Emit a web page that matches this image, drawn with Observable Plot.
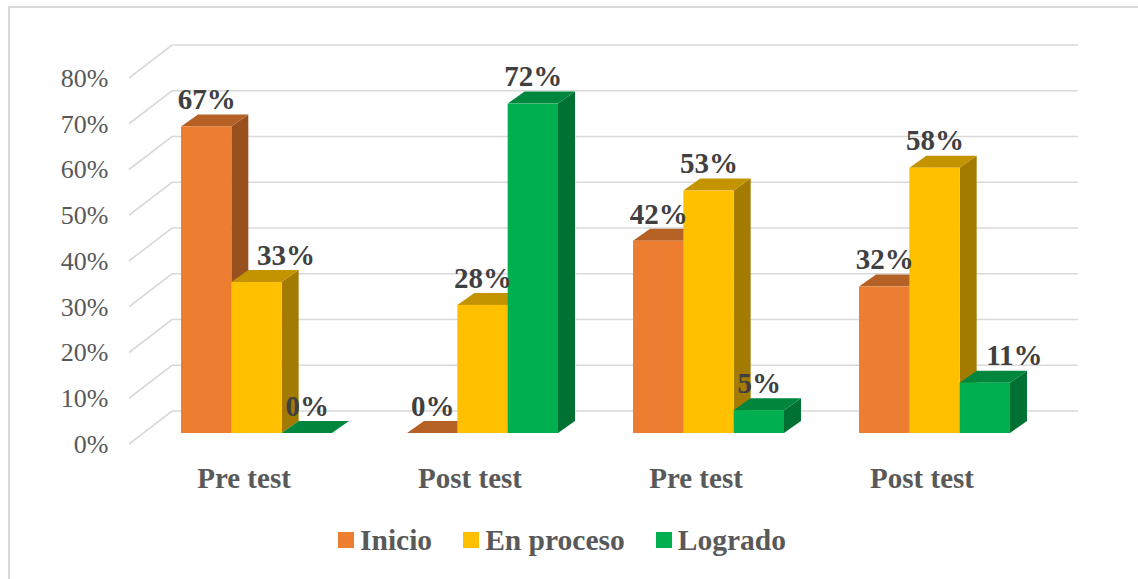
<!DOCTYPE html>
<html><head><meta charset="utf-8">
<script src="https://cdn.jsdelivr.net/npm/d3@7"></script>
<script src="https://cdn.jsdelivr.net/npm/@observablehq/plot@0.6"></script>
<style>
html,body{margin:0;padding:0;background:#fff;overflow:hidden;width:1138px;height:579px;}
#frame{position:absolute;left:8px;top:6px;width:1200px;height:700px;border:2px solid #d9d9d9;box-sizing:border-box;}
#chart{position:absolute;left:0;top:0;}
#legend{position:absolute;left:338px;top:521px;height:38px;display:flex;align-items:center;font-family:"Liberation Serif","Times New Roman",serif;font-weight:bold;font-size:29.5px;color:#595959;white-space:nowrap;}
.item{display:flex;align-items:center;margin-right:31px;}
.sw{width:16px;height:16px;margin-right:6px;}
</style></head><body>
<div id="frame"></div><div id="chart"></div><div id="legend"></div>
<script>
// ---- data ----
const categories = ["Pre test", "Post test", "Pre test", "Post test"];
const series = ["Inicio", "En proceso", "Logrado"];
const inicio = [0.67, 0.00, 0.42, 0.32];
const enProceso = [0.33, 0.28, 0.53, 0.58];
const logrado = [0.00, 0.72, 0.05, 0.11];
const yTicks = [0, 0.1, 0.2, 0.3, 0.4, 0.5, 0.6, 0.7, 0.8];
const colors = ["#ED7D31", "#FFC000", "#00B050"];

const values = [inicio, enProceso, logrado];
const rows = [];
categories.forEach((c, g) => series.forEach((s, si) => {
  const v = values[si][g];
  rows.push({g, s: si, v, label: Math.round(v * 100) + "%"});
}));
// a label is moved right when it would collide with the taller neighbouring bar's side face
rows.forEach((d, i) => {
  const prev = d.s > 0 ? rows[i - 1] : null;
  d.shift = Boolean(prev && prev.v > d.v && d.label.length >= 3);
});

// ---- layout ----
const W = 1138, H = 505;
const mL = 130, mR = 77, mT = 67, mB = 72;
const pInner = 0.332, pOuter = 0.2257;
const step = (W - mL - mR) / (categories.length - pInner + 2 * pOuter);
const bw = step * (1 - pInner), w = bw / 3;
const DX = 17, DY = 12;         // bar depth
const serif = "'Liberation Serif', 'Times New Roman', serif";

function grid(index, scales) {
  const {y} = scales;
  const g = d3.create("svg:g").attr("stroke", "#d9d9d9").attr("stroke-width", 1.6).attr("fill", "none");
  const xr = W - mR;
  for (const t of yTicks) {
    const yy = y(t);
    g.append("path").attr("d", `M${mL - 1},${yy + 11}L${mL + 42},${yy - 22}L${xr + 17},${yy - 22}`);
  }
  return g.node();
}

function faces(index, scales) {
  const {x, y} = scales;
  const g = d3.create("svg:g");
  for (const d of rows) {
    const x0 = x(d.g) + d.s * w, x1 = x0 + w;
    const y0 = y(0), yt = y(d.v);
    const c = d3.color(colors[d.s]);
    g.append("path")
      .attr("d", `M${x1},${y0}L${x1 + DX},${y0 - DY}L${x1 + DX},${yt - DY}L${x1},${yt}Z`)
      .attr("fill", c.darker(1.25).formatHex());
    g.append("path")
      .attr("d", `M${x0},${yt}L${x1},${yt}L${x1 + DX},${yt - DY}L${x0 + DX},${yt - DY}Z`)
      .attr("fill", c.darker(0.75).formatHex());
  }
  return g.node();
}

const marks = [grid, faces];
series.forEach((s, si) => {
  marks.push(Plot.barY(rows.filter(d => d.s === si), {
    x: "g", y: "v", fill: colors[si],
    insetLeft: si * w, insetRight: (2 - si) * w
  }));
});
series.forEach((s, si) => {
  for (const shifted of [false, true]) {
    marks.push(Plot.text(rows.filter(d => d.s === si && d.shift === shifted), {
      x: "g", y: "v", text: "label",
      dx: (si - 1) * w + (shifted ? 29 : 0), dy: -27,
      fontFamily: serif, fontWeight: "bold", fontSize: 29, fill: "#404040"
    }));
  }
});
marks.push(Plot.axisY({
  ticks: yTicks, tickFormat: d3.format(".0%"), tickSize: 0, tickPadding: 22, dy: 11,
  fontFamily: serif, fontSize: 26, fill: "#595959", label: null
}));
marks.push(Plot.axisX({
  tickFormat: i => categories[i], tickSize: 0, tickPadding: 34, dx: -13,
  fontFamily: serif, fontSize: 29, fontWeight: "bold", fill: "#595959", label: null
}));

const chart = Plot.plot({
  width: W, height: H,
  marginLeft: mL, marginRight: mR, marginTop: mT, marginBottom: mB,
  x: {domain: d3.range(categories.length), paddingInner: pInner, paddingOuter: pOuter, round: false, label: null},
  y: {domain: [0, 0.8], label: null},
  style: {background: "transparent", color: "#595959", fontFamily: serif, overflow: "visible"},
  marks
});
document.getElementById("chart").appendChild(chart);

const legend = document.getElementById("legend");
series.forEach((s, si) => {
  const item = document.createElement("div");
  item.className = "item";
  const sw = document.createElement("span");
  sw.className = "sw";
  sw.style.background = colors[si];
  const lab = document.createElement("span");
  lab.textContent = s;
  item.append(sw, lab);
  legend.appendChild(item);
});
</script>
</body></html>
